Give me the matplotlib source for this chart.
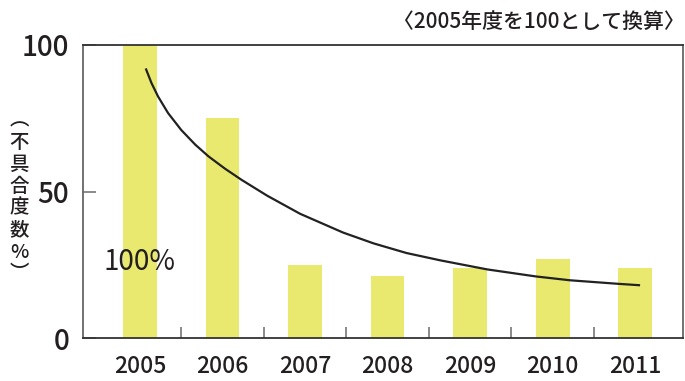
import numpy as np
import matplotlib
matplotlib.use("Agg")
import matplotlib.pyplot as plt

plt.rcParams['font.family'] = ['Noto Sans CJK JP', 'DejaVu Sans']

# data
years = ['2005', '2006', '2007', '2008', '2009', '2010', '2011']
values = [100, 75, 25, 21, 24, 27, 24]

# trend curve (x in year positions)
curve_x = [0.07, 0.14, 0.22, 0.34, 0.50, 0.67, 0.83, 1.03, 1.23, 1.54,
           1.94, 2.46, 2.83, 3.23, 3.64, 4.21, 4.80, 5.21, 5.79, 6.06]
curve_y = [92.0, 87.0, 82.4, 76.8, 71.0, 66.0, 62.0, 57.8, 54.0, 48.6,
           42.4, 36.0, 32.3, 29.0, 26.5, 23.4, 21.0, 19.7, 18.5, 18.0]

y_ticks = [0, 50, 100]

TEXT = '#231f20'
BAR = '#e9e96f'

fig = plt.figure(figsize=(6.85, 3.81), dpi=100)
ax = fig.add_axes([83 / 685, 1 - 338 / 381, 600 / 685, 293 / 381])

x = np.arange(len(years))
ax.bar(x, values, width=0.41, color=BAR, zorder=1)
ax.plot(curve_x, curve_y, color='#222222', linewidth=1.6, zorder=3,
        solid_capstyle='butt', solid_joinstyle='round')

ax.text(0, 26, '100%', ha='center', va='center', fontsize=20, color=TEXT,
        zorder=4)

ax.set_xlim(-0.69, 6.58)
ax.set_ylim(0, 100)

# year labels at bar centres, tick marks between bars
ax.set_xticks(x)
ax.set_xticklabels(years, fontsize=16.5, color=TEXT, fontweight='medium')
ax.tick_params(axis='x', which='major', length=0, pad=12)
ax.set_xticks(x[:-1] + 0.5, minor=True)
ax.tick_params(axis='x', which='minor', direction='in', length=8,
               width=1.2, color='#777777')

ax.set_yticks(y_ticks)
ax.set_yticklabels([str(t) for t in y_ticks], fontsize=20, color=TEXT,
                   fontweight='medium')
ax.tick_params(axis='y', direction='in', length=9, width=1.2,
               color='#777777', pad=10)

for side in ['top', 'bottom']:
    ax.spines[side].set_color('#333333')
    ax.spines[side].set_linewidth(1.3)
for side in ['left', 'right']:
    ax.spines[side].set_color('#666666')
    ax.spines[side].set_linewidth(1.3)

# vertical y-axis label
ylabel = '\n'.join(['︵', '不', '具', '合', '度', '数', '%', '︶'])
fig.text(19 / 685, 1 - 197 / 381, ylabel, ha='center', va='center',
         fontsize=14, color=TEXT, linespacing=1.2, fontweight='medium')

fig.text(1.0, 1 - 22 / 381, '〈2005年度を100として換算〉', ha='right',
         va='center', fontsize=15, fontweight='medium', color=TEXT)

fig.savefig('out.png', dpi=100)
